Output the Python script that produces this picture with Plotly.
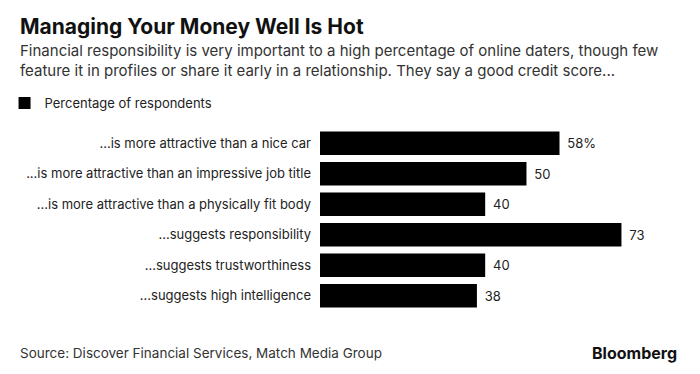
import plotly.graph_objects as go

categories = [
    "...is more attractive than a nice car",
    "...is more attractive than an impressive job title",
    "...is more attractive than a physically fit body",
    "...suggests responsibility",
    "...suggests trustworthiness",
    "...suggests high intelligence",
]
values = [58, 50, 40, 73, 40, 38]
series_name = "Percentage of respondents"
title = "Managing Your Money Well Is Hot"
subtitle_lines = [
    "Financial responsibility is very important to a high percentage of online daters, though few",
    "feature it in profiles or share it early in a relationship. They say a good credit score...",
]
source = "Source: Discover Financial Services, Match Media Group"

labels = ["\u00a0\u200a" + (f"{v}%" if i == 0 else f"{v}") for i, v in enumerate(values)]

FONT = "Inter"

# figure-pixel layout (page body adds an 8px offset)
plot_l, plot_t, plot_b = 312, 120, 303
x_max = 85
plot_r = plot_l + x_max * 4.13
pw, ph = plot_r - plot_l, plot_b - plot_t
def px(x): return (x - plot_l) / pw
def py(y): return (plot_b - y) / ph

fig = go.Figure(go.Bar(
    x=values, y=categories, orientation="h",
    marker=dict(color="#000000", line=dict(width=0)),
    text=labels, textposition="outside",
    textfont=dict(family=FONT, size=13, color="#222"),
    cliponaxis=False, name=series_name, showlegend=True,
))

anns = [
    dict(text=f"<b>{title}</b>", x=px(10), y=py(18), yanchor="middle",
         font=dict(family=FONT, size=21, color="#111")),
    dict(text="<br>".join(subtitle_lines), x=px(10), y=py(52), yanchor="middle",
         font=dict(family=FONT, size=15, color="#333")),
    dict(text=source, x=px(10), y=py(345), yanchor="middle",
         font=dict(family=FONT, size=13.5, color="#333")),
    dict(text="<b>Bloomberg</b>", x=px(671), y=py(345), yanchor="middle", xanchor="right",
         font=dict(family=FONT, size=16, color="#111")),
]
for a in anns:
    a.setdefault("xanchor", "left")
    a.update(xref="paper", yref="paper", showarrow=False, align="left")

fig.update_layout(
    width=700, height=374,
    margin=dict(l=plot_l, r=700 - plot_r, t=plot_t, b=374 - plot_b, autoexpand=False),
    paper_bgcolor="white", plot_bgcolor="white",
    font=dict(family=FONT, color="#222"),
    bargap=0.23,
    xaxis=dict(range=[0, x_max], visible=False, automargin=False),
    yaxis=dict(autorange="reversed", showgrid=False, zeroline=False, automargin=False,
               showline=False, ticks="", ticklabelstandoff=8,
               tickfont=dict(family=FONT, size=13, color="#222")),
    legend=dict(xref="paper", yref="paper", x=px(-3.5), y=py(95),
                xanchor="left", yanchor="middle", font=dict(family=FONT, size=13, color="#222"),
                itemwidth=30, bgcolor="rgba(0,0,0,0)"),
    annotations=anns,
)

fig.write_html("out.html")
